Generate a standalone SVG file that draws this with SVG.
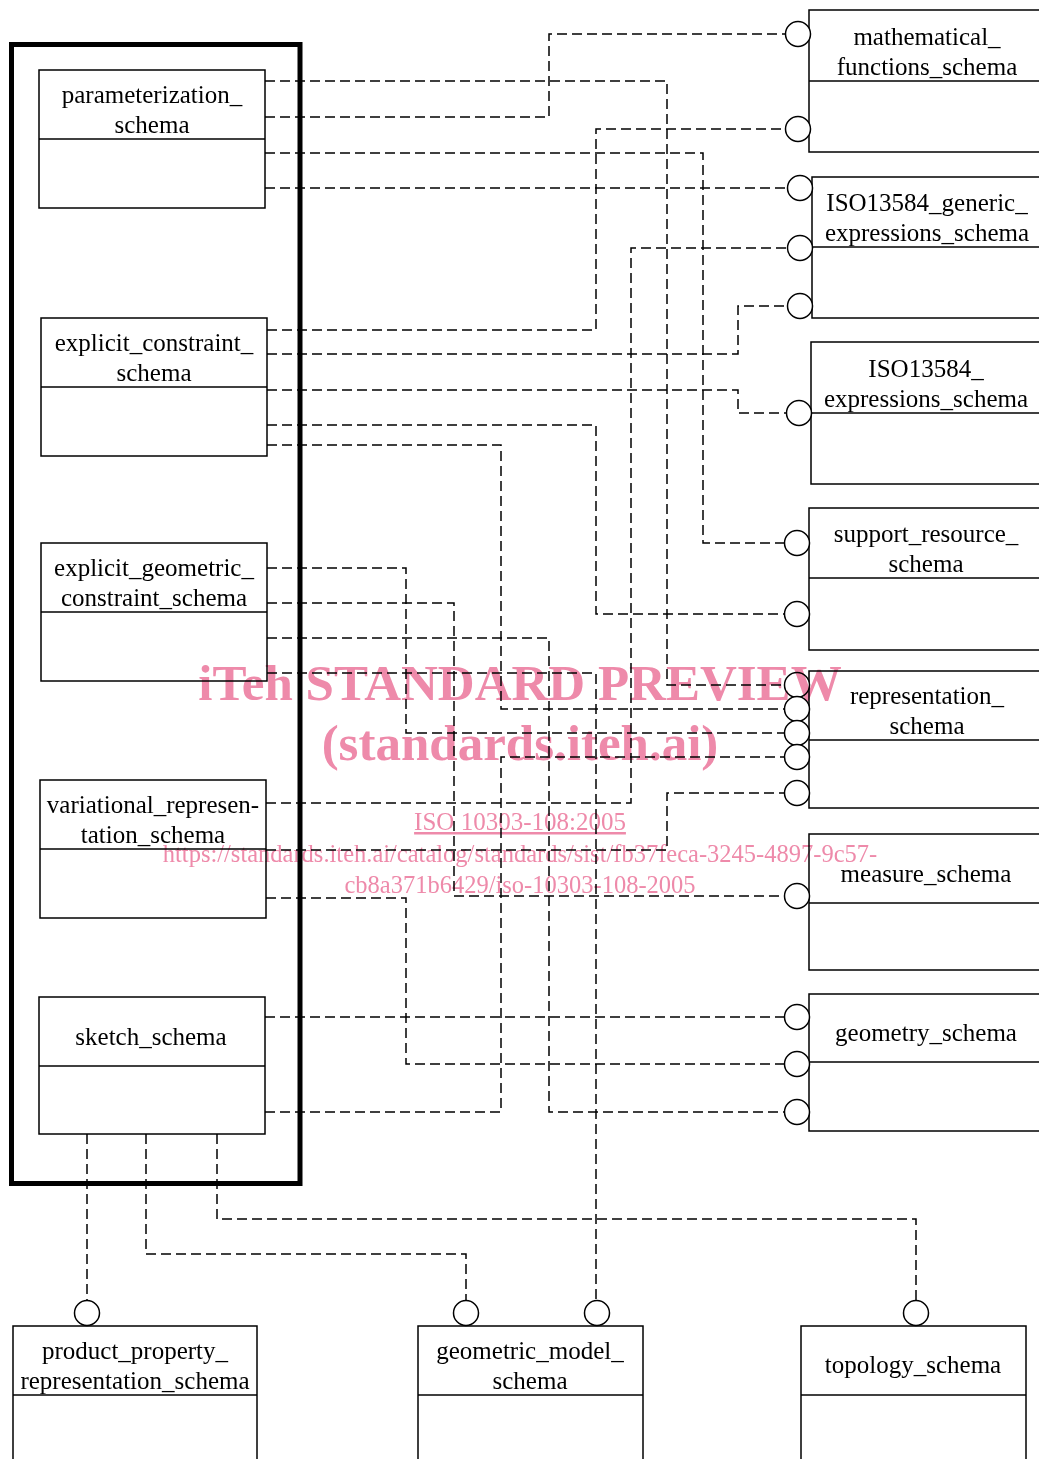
<svg xmlns="http://www.w3.org/2000/svg" width="1039" height="1459" viewBox="0 0 1039 1459">
<style>
.box{fill:none;stroke:#000;stroke-width:1.5}
.dv{stroke:#000;stroke-width:1.5}
.lbl{font-family:"Liberation Serif","Times New Roman",serif;font-size:25px;text-anchor:middle;fill:#000}
.conn{fill:none;stroke:#000;stroke-width:1.5;stroke-dasharray:10 5}
.port{fill:#fff;stroke:#000;stroke-width:1.5}
.wm{font-family:"Liberation Serif","Times New Roman",serif;fill:#ee8aaa;text-anchor:middle;mix-blend-mode:multiply}
</style>
<rect width="1039" height="1459" fill="#fff"/>
<rect id="frame" x="11.5" y="44.5" width="288.5" height="1139" fill="none" stroke="#000" stroke-width="5"/>

<g id="connectors">
<polyline class="conn" points="265,81 667,81 667,685 784.5,685"/>
<polyline class="conn" points="265,117 549,117 549,34 785.5,34"/>
<polyline class="conn" points="265,153 703,153 703,543 784.5,543"/>
<polyline class="conn" points="265,188 787.5,188"/>
<polyline class="conn" points="266,803 631,803 631,248 787.5,248"/>
<polyline class="conn" points="267,330 596,330 596,129 785.5,129"/>
<polyline class="conn" points="267,354 738,354 738,306 787.5,306"/>
<polyline class="conn" points="267,390 738,390 738,413 786.5,413"/>
<polyline class="conn" points="267,425 596,425 596,614 784.5,614"/>
<polyline class="conn" points="267,445 501,445 501,709 784.5,709"/>
<polyline class="conn" points="267,568 406,568 406,733 784.5,733"/>
<polyline class="conn" points="267,603 454,603 454,896 784.5,896"/>
<polyline class="conn" points="267,638 549,638 549,1112 784.5,1112"/>
<polyline class="conn" points="267,673 596,673 596,1300.5"/>
<polyline class="conn" points="266,850 667,850 667,793 784.5,793"/>
<polyline class="conn" points="266,898 406,898 406,1064 784.5,1064"/>
<polyline class="conn" points="265,1017 784.5,1017"/>
<polyline class="conn" points="265,1112 501,1112 501,757 784.5,757"/>
<polyline class="conn" points="87,1134 87,1300.5"/>
<polyline class="conn" points="146,1134 146,1254 466,1254 466,1300.5"/>
<polyline class="conn" points="217,1134 217,1219 916,1219 916,1300.5"/>
</g>

<g id="parameterization_schema">
<rect class="box" x="39" y="70" width="226" height="138"/>
<line class="dv" x1="39" y1="139" x2="265" y2="139"/>
<text class="lbl" x="152" y="103">parameterization_</text>
<text class="lbl" x="152" y="133">schema</text>
</g>
<g id="explicit_constraint_schema">
<rect class="box" x="41" y="318" width="226" height="138"/>
<line class="dv" x1="41" y1="387" x2="267" y2="387"/>
<text class="lbl" x="154" y="351">explicit_constraint_</text>
<text class="lbl" x="154" y="381">schema</text>
</g>
<g id="explicit_geometric_constraint_schema">
<rect class="box" x="41" y="543" width="226" height="138"/>
<line class="dv" x1="41" y1="612" x2="267" y2="612"/>
<text class="lbl" x="154" y="576">explicit_geometric_</text>
<text class="lbl" x="154" y="606">constraint_schema</text>
</g>
<g id="variational_representation_schema">
<rect class="box" x="40" y="780" width="226" height="138"/>
<line class="dv" x1="40" y1="849" x2="266" y2="849"/>
<text class="lbl" x="153" y="813">variational_represen-</text>
<text class="lbl" x="153" y="843">tation_schema</text>
</g>
<g id="sketch_schema">
<rect class="box" x="39" y="997" width="226" height="137"/>
<line class="dv" x1="39" y1="1066" x2="265" y2="1066"/>
<text class="lbl" x="151" y="1045">sketch_schema</text>
</g>

<g id="mathematical_functions_schema">
<rect class="box" x="809" y="10" width="260" height="142"/>
<line class="dv" x1="809" y1="81" x2="1039" y2="81"/>
<text class="lbl" x="927" y="45">mathematical_</text>
<text class="lbl" x="927" y="75">functions_schema</text>
<circle class="port" cx="798" cy="34" r="12.5"/>
<circle class="port" cx="798" cy="129" r="12.5"/>
</g>
<g id="ISO13584_generic_expressions_schema">
<rect class="box" x="812" y="177" width="260" height="141"/>
<line class="dv" x1="812" y1="247" x2="1039" y2="247"/>
<text class="lbl" x="927" y="211">ISO13584_generic_</text>
<text class="lbl" x="927" y="241">expressions_schema</text>
<circle class="port" cx="800" cy="188" r="12.5"/>
<circle class="port" cx="800" cy="248" r="12.5"/>
<circle class="port" cx="800" cy="306" r="12.5"/>
</g>
<g id="ISO13584_expressions_schema">
<rect class="box" x="811" y="342" width="260" height="142"/>
<line class="dv" x1="811" y1="413" x2="1039" y2="413"/>
<text class="lbl" x="926" y="377">ISO13584_</text>
<text class="lbl" x="926" y="407">expressions_schema</text>
<circle class="port" cx="799" cy="413" r="12.5"/>
</g>
<g id="support_resource_schema">
<rect class="box" x="809" y="508" width="260" height="142"/>
<line class="dv" x1="809" y1="578" x2="1039" y2="578"/>
<text class="lbl" x="926" y="542">support_resource_</text>
<text class="lbl" x="926" y="572">schema</text>
<circle class="port" cx="797" cy="543" r="12.5"/>
<circle class="port" cx="797" cy="614" r="12.5"/>
</g>
<g id="representation_schema">
<rect class="box" x="809" y="671" width="260" height="137"/>
<line class="dv" x1="809" y1="740" x2="1039" y2="740"/>
<text class="lbl" x="927" y="704">representation_</text>
<text class="lbl" x="927" y="734">schema</text>
<circle class="port" cx="797" cy="685" r="12.5"/>
<circle class="port" cx="797" cy="709" r="12.5"/>
<circle class="port" cx="797" cy="733" r="12.5"/>
<circle class="port" cx="797" cy="757" r="12.5"/>
<circle class="port" cx="797" cy="793" r="12.5"/>
</g>
<g id="measure_schema">
<rect class="box" x="809" y="834" width="260" height="136"/>
<line class="dv" x1="809" y1="903" x2="1039" y2="903"/>
<text class="lbl" x="926" y="882">measure_schema</text>
<circle class="port" cx="797" cy="896" r="12.5"/>
</g>
<g id="geometry_schema">
<rect class="box" x="809" y="994" width="260" height="137"/>
<line class="dv" x1="809" y1="1062" x2="1039" y2="1062"/>
<text class="lbl" x="926" y="1041">geometry_schema</text>
<circle class="port" cx="797" cy="1017" r="12.5"/>
<circle class="port" cx="797" cy="1064" r="12.5"/>
<circle class="port" cx="797" cy="1112" r="12.5"/>
</g>

<g id="product_property_representation_schema">
<rect class="box" x="13" y="1326" width="244" height="150"/>
<line class="dv" x1="13" y1="1395" x2="257" y2="1395"/>
<text class="lbl" x="135" y="1359">product_property_</text>
<text class="lbl" x="135" y="1389">representation_schema</text>
<circle class="port" cx="87" cy="1313" r="12.5"/>
</g>
<g id="geometric_model_schema">
<rect class="box" x="418" y="1326" width="225" height="150"/>
<line class="dv" x1="418" y1="1395" x2="643" y2="1395"/>
<text class="lbl" x="530" y="1359">geometric_model_</text>
<text class="lbl" x="530" y="1389">schema</text>
<circle class="port" cx="466" cy="1313" r="12.5"/>
<circle class="port" cx="597" cy="1313" r="12.5"/>
</g>
<g id="topology_schema">
<rect class="box" x="801" y="1326" width="225" height="150"/>
<line class="dv" x1="801" y1="1395" x2="1026" y2="1395"/>
<text class="lbl" x="913" y="1373">topology_schema</text>
<circle class="port" cx="916" cy="1313" r="12.5"/>
</g>

<g id="watermark">
<text class="wm" x="520" y="700" font-size="51" font-weight="bold">iTeh STANDARD PREVIEW</text>
<text class="wm" x="520" y="760" font-size="51" font-weight="bold">(standards.iteh.ai)</text>
<text class="wm" x="520" y="830" font-size="25" text-decoration="underline">ISO 10303-108:2005</text>
<text class="wm" x="520" y="862" font-size="24.5">https://standards.iteh.ai/catalog/standards/sist/fb37feca-3245-4897-9c57-</text>
<text class="wm" x="520" y="893" font-size="24.5">cb8a371b6429/iso-10303-108-2005</text>
</g>
</svg>
